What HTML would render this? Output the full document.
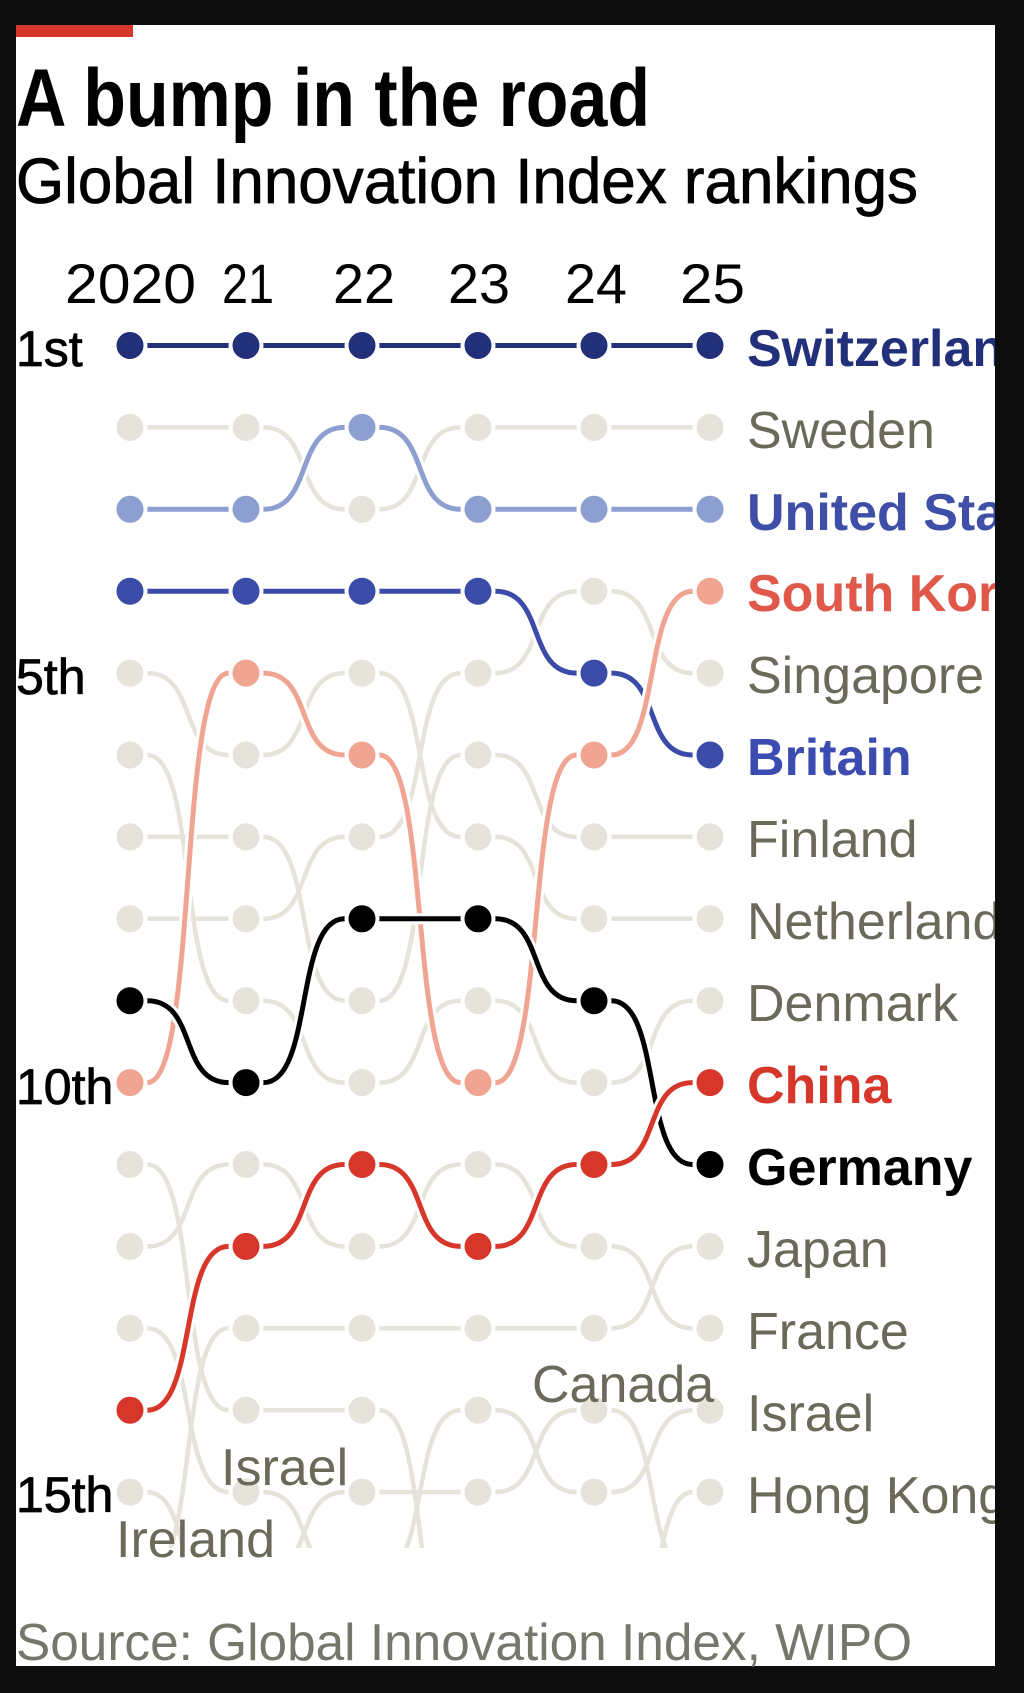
<!DOCTYPE html>
<html><head><meta charset="utf-8"><style>
html,body{margin:0;padding:0;background:#0d0d0d;width:1024px;height:1693px;overflow:hidden}
svg{display:block}
text{font-family:"Liberation Sans",sans-serif}
</style></head><body>
<svg id="s" width="1024" height="1693" viewBox="0 0 1024 1693" xmlns="http://www.w3.org/2000/svg">
<rect x="0" y="0" width="1024" height="1693" fill="#0d0d0d"/>
<rect x="16" y="25" width="979" height="1641" fill="#ffffff"/>
<rect x="16" y="25" width="117" height="12" fill="#d7372a"/>
<text x="16" y="126" font-size="82" font-weight="bold" fill="#000" textLength="634" lengthAdjust="spacingAndGlyphs">A bump in the road</text>
<text x="16" y="203" font-size="64" fill="#000" stroke="#000" stroke-width="0.8" textLength="902" lengthAdjust="spacingAndGlyphs">Global Innovation Index rankings</text>
<g font-size="56" fill="#000">
<text x="65" y="303" textLength="131" lengthAdjust="spacingAndGlyphs">2020</text>
<text x="222" y="303" textLength="52" lengthAdjust="spacingAndGlyphs">21</text>
<text x="333" y="303" textLength="62" lengthAdjust="spacingAndGlyphs">22</text>
<text x="448" y="303" textLength="62" lengthAdjust="spacingAndGlyphs">23</text>
<text x="565" y="303" textLength="62" lengthAdjust="spacingAndGlyphs">24</text>
<text x="680" y="303" textLength="65" lengthAdjust="spacingAndGlyphs">25</text>
</g>
<defs><clipPath id="c"><rect x="16" y="300" width="979" height="1248"/></clipPath></defs>
<g id="chart" clip-path="url(#c)"></g>
<g font-size="50" fill="#000" stroke="#000" stroke-width="0.8">
<text x="16" y="366">1st</text>
<text x="16" y="694">5th</text>
<text x="16" y="1104">10th</text>
<text x="16" y="1512">15th</text>
</g>
<g font-size="52">
<text x="747" y="366" fill="#22307a" font-weight="bold">Switzerland</text>
<text x="747" y="448" fill="#6b6a5a">Sweden</text>
<text x="747" y="530" fill="#3f4ea6" font-weight="bold">United States</text>
<text x="747" y="611" fill="#e0584a" font-weight="bold">South Korea</text>
<text x="747" y="693" fill="#6b6a5a">Singapore</text>
<text x="747" y="775" fill="#3b4bb0" font-weight="bold">Britain</text>
<text x="747" y="857" fill="#6b6a5a">Finland</text>
<text x="747" y="939" fill="#6b6a5a">Netherlands</text>
<text x="747" y="1021" fill="#6b6a5a">Denmark</text>
<text x="747" y="1103" fill="#d7372a" font-weight="bold">China</text>
<text x="747" y="1185" fill="#000" font-weight="bold">Germany</text>
<text x="747" y="1267" fill="#6b6a5a">Japan</text>
<text x="747" y="1349" fill="#6b6a5a">France</text>
<text x="747" y="1431" fill="#6b6a5a">Israel</text>
<text x="747" y="1513" fill="#6b6a5a">Hong Kong</text>
<text x="532" y="1402" fill="#6b6a5a">Canada</text>
<text x="221" y="1485" fill="#6b6a5a">Israel</text>
<text x="116" y="1557" fill="#6b6a5a">Ireland</text>
</g>
<rect x="995" y="300" width="29" height="1300" fill="#0d0d0d"/>
<text x="16" y="1660" font-size="52" fill="#77766b" textLength="896" lengthAdjust="spacingAndGlyphs">Source: Global Innovation Index, WIPO</text>
</svg>
<script>
(function(){
var NS="http://www.w3.org/2000/svg",g=document.getElementById("chart");
function X(i){return 130+i*116;}
function Y(r){return 345.5+(r-1)*81.9;}
var grey=[
[2,2,3,2,2,2],[5,6,5,7,8,8],[6,9,10,9,10,9],[7,7,9,6,7,7],[8,8,7,5,4,5],
[11,14,14,17,18,15],[16,13,13,13,13,12],[12,11,12,11,12,13],[13,15,16,14,15,14],
[17,16,15,15,14,16],[15,17,17,17,17,17]];
var col=[
[[1,1,1,1,1,1],"#22307a"],[[3,3,2,3,3,3],"#8c9fd0"],[[4,4,4,4,5,6],"#3b4ba8"],
[[10,5,6,10,6,4],"#f0a593"],[[9,10,8,8,9,11],"#000000"],[[14,12,11,12,11,10],"#d7372a"]];
function el(n,a){var e=document.createElementNS(NS,n);for(var k in a)e.setAttribute(k,a[k]);g.appendChild(e);return e;}
function path(r){var d="";for(var i=0;i<5;i++){if(r[i]>15&&r[i+1]>15)continue;var x1=X(i),x2=X(i+1),y1=Y(r[i]),y2=Y(r[i+1]),dx=x2-x1;
var a=x1+0.15*dx,b=x2-0.15*dx,w=b-a;
d+="M"+x1+","+y1+" L"+a+","+y1+" C"+(a+0.62*w)+","+y1+" "+(b-0.62*w)+","+y2+" "+b+","+y2+" L"+x2+","+y2+" ";}return d;}
function draw(r,c,halo){
if(halo)el("path",{d:path(r),fill:"none",stroke:"#fff","stroke-width":11});
el("path",{d:path(r),fill:"none",stroke:c,"stroke-width":halo?5:4.5});}
function dots(r,c){for(var i=0;i<6;i++){if(r[i]>15)continue;el("circle",{cx:X(i),cy:Y(r[i]),r:15.5,fill:c,stroke:"#fff","stroke-width":4});}}
grey.forEach(function(r){draw(r,"#e6e3da",false);});
grey.forEach(function(r){dots(r,"#e6e3da");});
col.forEach(function(a){draw(a[0],a[1],true);dots(a[0],a[1]);});
})();
</script>
</body></html>
